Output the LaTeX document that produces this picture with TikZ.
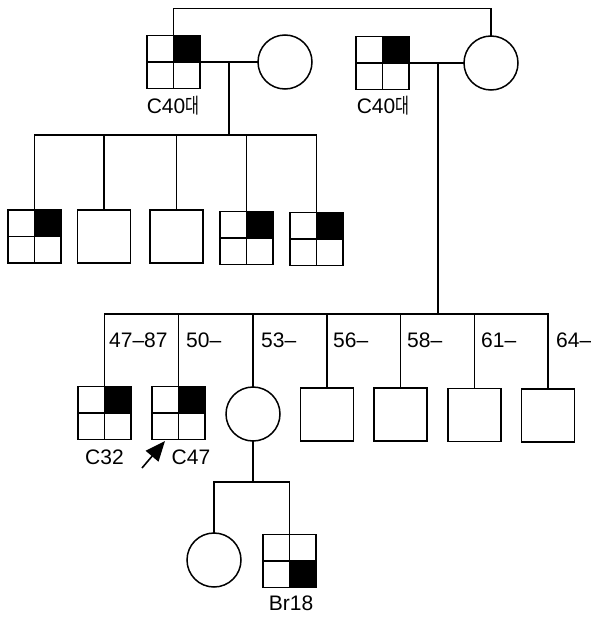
\documentclass[tikz,border=0pt]{standalone}
\usepackage{fontspec}
\usepackage{graphicx}
\setmainfont{Liberation Sans}
\newfontfamily\kr{Noto Sans CJK KR}
\usetikzlibrary{arrows.meta}
\newcommand{\dae}{\scalebox{0.72}[1]{\kr 대}}
\tikzset{
  ln/.style={line width=1.5pt},
  sq/.style={draw, line width=1.5pt, minimum size=53pt, inner sep=0pt, outer sep=0pt},
  circ/.style={draw, circle, line width=1.5pt, minimum size=54pt, inner sep=0pt, outer sep=0pt},
  qtr/.style={sq, path picture={
     \fill (path picture bounding box.north) rectangle (path picture bounding box.east);
     \draw[line width=1.5pt] (path picture bounding box.north)--(path picture bounding box.south)
       (path picture bounding box.west)--(path picture bounding box.east);}},
  qbr/.style={sq, path picture={
     \fill (path picture bounding box.center) rectangle (path picture bounding box.south east);
     \draw[line width=1.5pt] (path picture bounding box.north)--(path picture bounding box.south)
       (path picture bounding box.west)--(path picture bounding box.east);}},
  lbl/.style={font=\fontsize{21}{22}\selectfont, inner sep=0pt},
  yr/.style={font=\fontsize{21}{22}\selectfont, inner sep=0pt, anchor=west},
}
\begin{document}
\begin{tikzpicture}[x=1pt,y=-1pt]
\useasboundingbox (0,0) rectangle (591,618);
% generation I
\node[qtr] (s1) at (173.5,62) {};
\node[circ] (c1) at (285,62) {};
\node[qtr] (s2) at (382.5,63) {};
\node[circ] (c2) at (491,63) {};
\node[lbl] (l1) at (173,106) {C40\dae};
\node[lbl] (l2) at (383,106) {C40\dae};
\draw[ln] (s1.north) -- ++(0,-27) -| (c2.north);
\draw[ln] (s1.east) -- (c1.west);
\draw[ln] (s2.east) -- (c2.west);
\coordinate (m1) at (229,62);
\coordinate (g1) at (229,135);
\coordinate (m2) at (438,63);
\coordinate (g2) at (438,314);
% generation II (left family)
\node[qtr] (k1) at (34.5,236.5) {};
\node[sq]  (k2) at (104,236.5) {};
\node[sq]  (k3) at (176.5,236.5) {};
\node[qtr] (k4) at (246.5,238) {};
\node[qtr] (k5) at (316.5,239) {};
\draw[ln] (m1) -- (g1);
\foreach \k in {k1,k2,k3,k4,k5} \draw[ln] (g1) -| (\k.north);
% generation II (right family)
\node[qtr] (r1) at (104.5,413) {};
\node[qtr] (r2) at (178.5,413) {};
\node[circ] (r3) at (253,414) {};
\node[sq]  (r4) at (327,414.5) {};
\node[sq]  (r5) at (400.5,414.5) {};
\node[sq]  (r6) at (474.5,415) {};
\node[sq]  (r7) at (548,415.5) {};
\draw[ln] (m2) -- (g2);
\foreach \k in {r1,r2,r3,r4,r5,r6,r7} \draw[ln] (g2) -| (\k.north);
\node[yr] (y1) at (109,340) {47--87};
\node[yr] (y2) at (186,340) {50--};
\node[yr] (y3) at (261,340) {53--};
\node[yr] (y4) at (333,340) {56--};
\node[yr] (y5) at (407,340) {58--};
\node[yr] (y6) at (481,340) {61--};
\node[yr] (y7) at (556,340) {64--};
\node[lbl] (l3) at (104.5,457) {C32};
\node[lbl] (l4) at (191,457) {C47};
\coordinate (at) at (142,468);
\coordinate (ah) at (165,441);
\draw[line width=1.6pt, -{Triangle[length=20pt,width=15pt,angle'=45]}] (at) -- (ah);
% generation III
\coordinate (g3) at (253,482);
\node[circ] (d1) at (214,560) {};
\node[qbr]  (d2) at (289.5,561) {};
\draw[ln] (r3.south) -- (g3);
\draw[ln] (g3) -| (d1.north);
\draw[ln] (g3) -| (d2.north);
\node[lbl] (l5) at (291,603) {Br18};
\end{tikzpicture}
\end{document}
